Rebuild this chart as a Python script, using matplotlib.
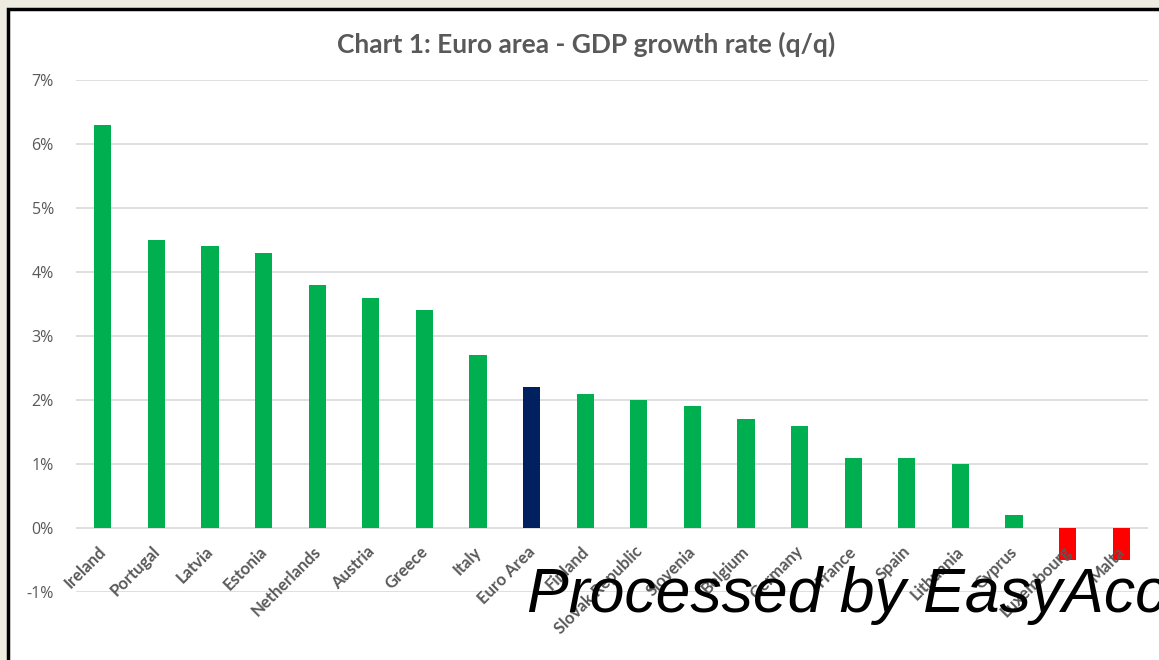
import matplotlib.pyplot as plt
from matplotlib.patches import Rectangle
import numpy as np

# data
countries = ['Ireland', 'Portugal', 'Latvia', 'Estonia', 'Netherlands', 'Austria',
             'Greece', 'Italy', 'Euro Area', 'Finland', 'Slovak Republic', 'Slovenia',
             'Belgium', 'Germany', 'France', 'Spain', 'Lithuania', 'Cyprus',
             'Luxembourg', 'Malta']
growth = [6.3, 4.5, 4.4, 4.3, 3.8, 3.6, 3.4, 2.7, 2.2, 2.1, 2.0, 1.9,
          1.7, 1.6, 1.1, 1.1, 1.0, 0.2, -0.5, -0.5]
yticks = [-1, 0, 1, 2, 3, 4, 5, 6, 7]

GREEN = '#00B050'
NAVY = '#002060'
RED = '#FF0000'
GREY = '#595959'

colors = []
for c, v in zip(countries, growth):
    if c == 'Euro Area':
        colors.append(NAVY)
    elif v < 0:
        colors.append(RED)
    else:
        colors.append(GREEN)

fig = plt.figure(figsize=(11.59, 6.6), dpi=100)
fig.patch.set_facecolor('#EEEBE0')

# white chart panel with black frame (cut off at right/bottom)
fig.patches.append(Rectangle((8/1159, -0.1), 1.2, 1 - 9/660 + 0.1,
                             transform=fig.transFigure, facecolor='white',
                             edgecolor='black', linewidth=2.5, zorder=-10))

ax = fig.add_axes([76/1159, 1 - 592/660, (1148 - 76)/1159, (592 - 80)/660])
ax.set_facecolor('none')

x = np.arange(len(countries))
ax.bar(x, growth, width=0.32, color=colors, zorder=3)

ax.set_xlim(-0.5, len(countries) - 0.5)
ax.set_ylim(-1, 7)
ax.set_yticks(yticks)
ax.set_yticklabels(['%d%%' % t for t in yticks], color=GREY, fontsize=11.5,
                   family='Open Sans')
ax.yaxis.grid(True, color='#D9D9D9', linewidth=1.2)
ax.set_axisbelow(True)
ax.tick_params(axis='y', length=0, pad=16)
ax.set_xticks([])
for s in ax.spines.values():
    s.set_visible(False)

# rotated category labels just under the zero line
for i, name in enumerate(countries):
    ax.text(i - 0.09, -0.24, name, rotation=45, ha='right', va='top',
            rotation_mode='anchor', color=GREY, fontsize=12,
            fontweight='bold', family='Lato')

fig.text(586/1159, 1 - 44/660, 'Chart 1: Euro area - GDP growth rate (q/q)',
         ha='center', va='center', color=GREY, fontsize=19,
         fontweight='bold', family='Lato')

# watermark
fig.text(527/1159, 1 - 612/660, 'Processed by EasyAccounting',
         ha='left', va='baseline', color='black', fontsize=45,
         style='italic', family='Liberation Sans')

fig.savefig('out.png', dpi=100, facecolor=fig.get_facecolor())
